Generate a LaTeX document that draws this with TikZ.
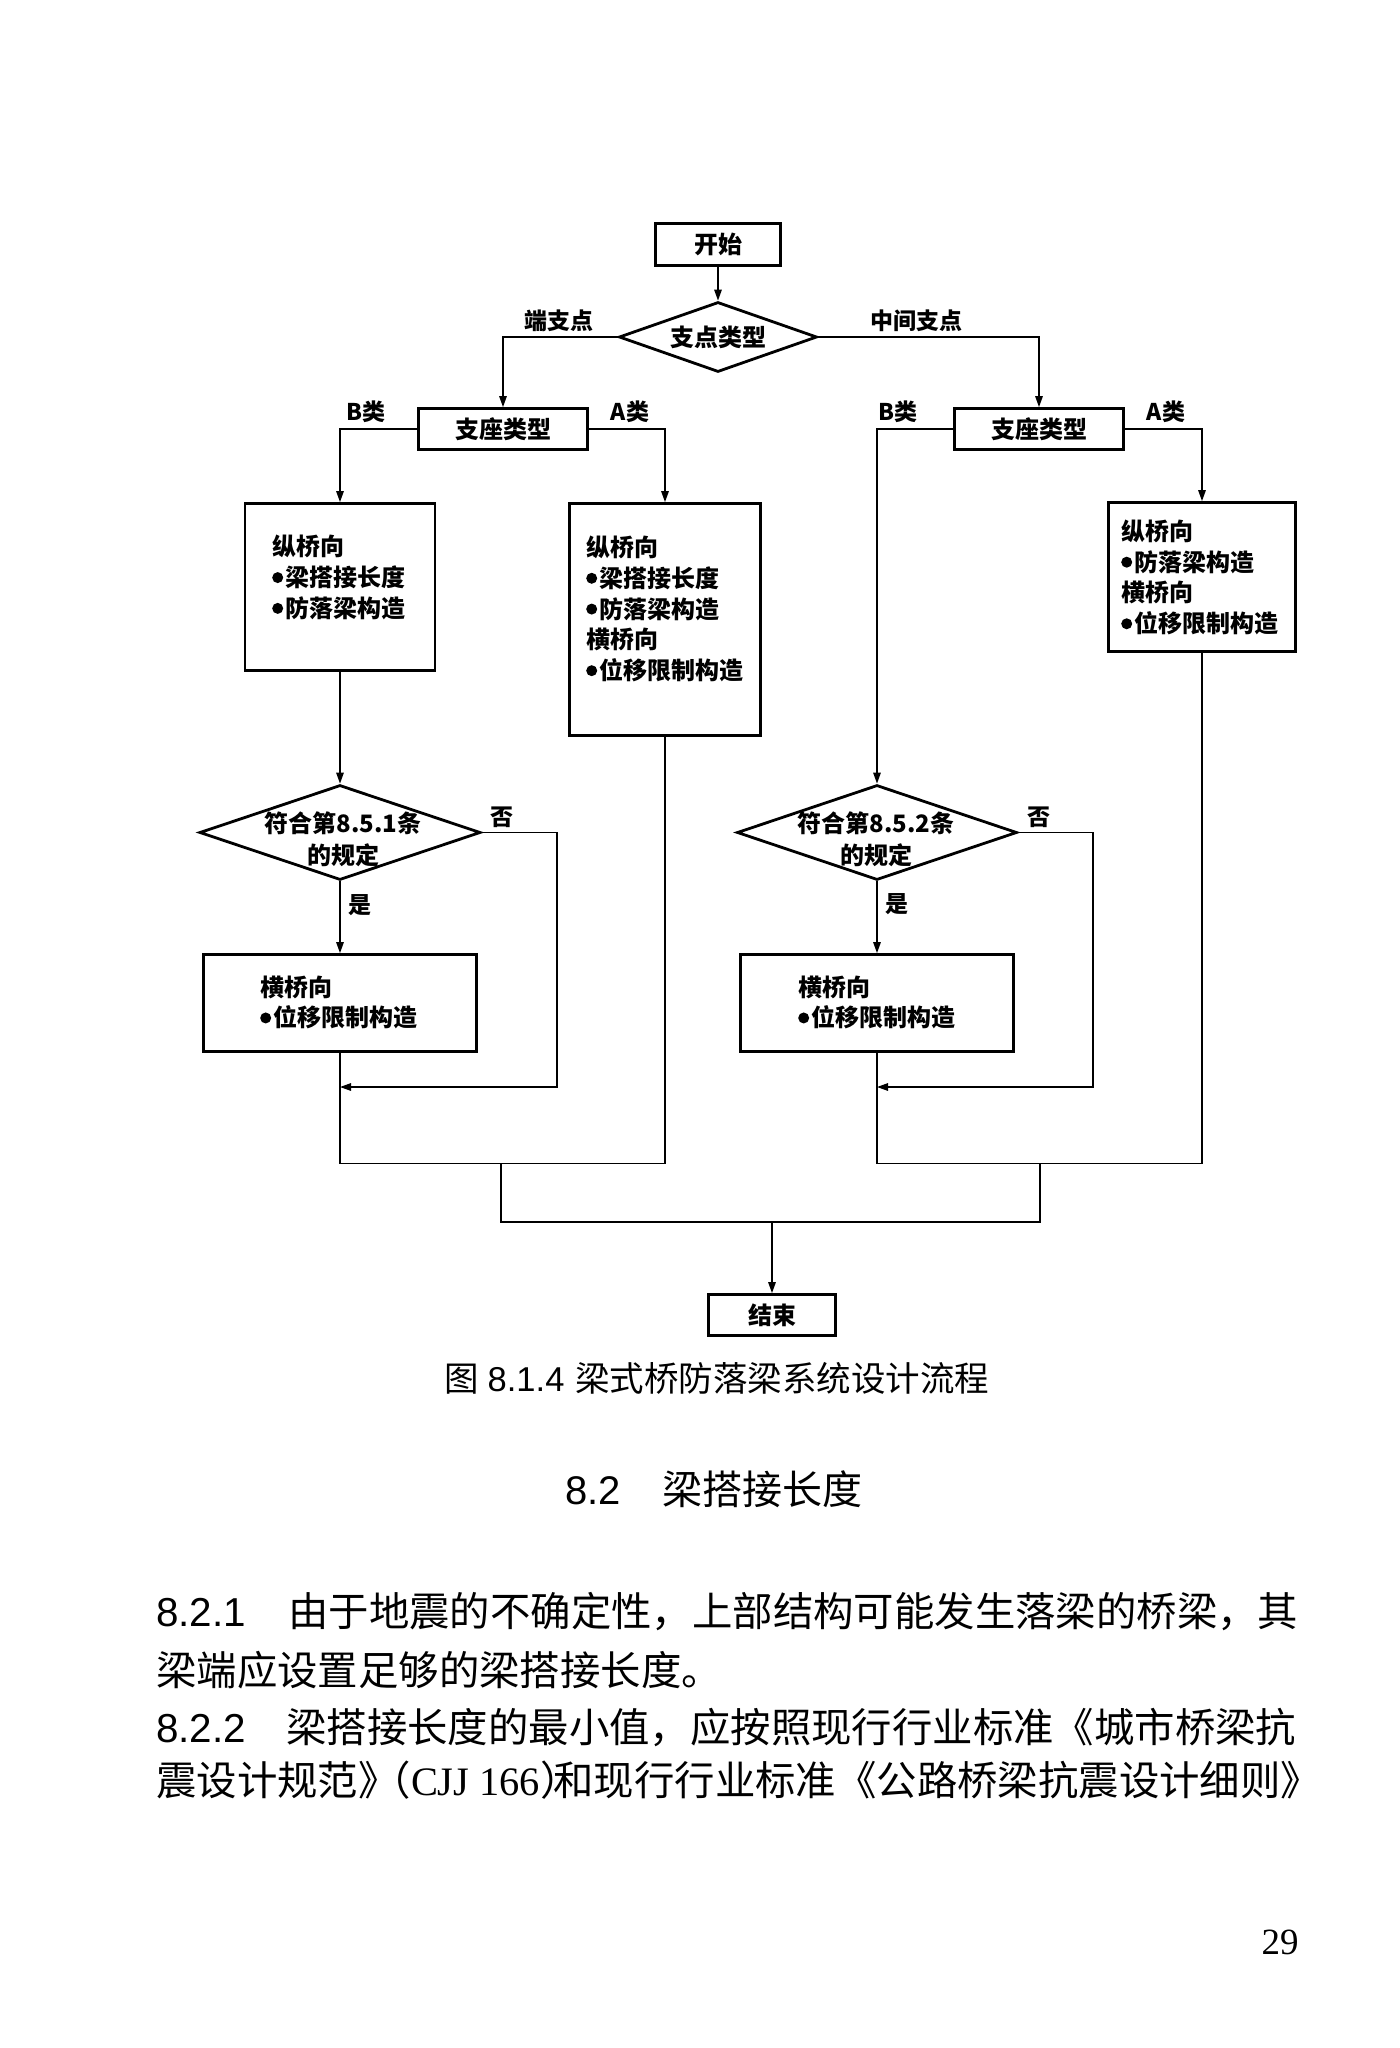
\documentclass[tikz,border=0pt]{standalone}
\usepackage{fontspec}
\setmainfont{Noto Sans CJK SC}
\newfontfamily\arialf{Liberation Sans}
\newfontfamily\timesf{Liberation Serif}
\usetikzlibrary{shapes.geometric,arrows.meta}
\newcommand{\fsz}[2]{\fontsize{#1}{#2}\selectfont}
\newcommand{\bul}{\raisebox{3.5pt}{\tikz\fill (0,0) circle (5.5pt);}\hspace{2.5pt}}
\begin{document}
\begin{tikzpicture}[x=1pt,y=-1pt,
 box/.style={draw, line width=2.8pt, rectangle, inner sep=0pt},
 dia/.style={draw, line width=2.8pt, diamond, inner sep=0pt},
 conn/.style={line width=1.4pt},
 arr/.style={conn, -{Triangle[length=11pt,width=7.5pt]}},
 ftxt/.style={font=\fsz{24}{30.8}\bfseries, align=left, inner sep=0pt, anchor=west},
 dtxt/.style={font=\fsz{24}{32}\bfseries, align=center, inner sep=0pt},
 lab/.style={font=\fsz{23}{26}\bfseries, inner sep=0pt},
 body/.style={font=\fsz{40.4}{44}, inner sep=0pt, anchor=west},
]
\fill[white] (0,0) rectangle (1400,2048);
\useasboundingbox (0,0) rectangle (1400,2048);

% ---- boxes ----
\node[box, minimum width=125pt, minimum height=42pt, font=\fsz{24}{28}\bfseries] (start) at (718,244.5) {开始};
\node[dia, minimum width=198pt, minimum height=70pt] (d0) at (718,337) {};
\node[dtxt] (d0t) at (718,337) {支点类型};

\node[box, minimum width=169pt, minimum height=41pt, font=\fsz{24}{28}\bfseries] (zl) at (503,429) {支座类型};
\node[box, minimum width=169pt, minimum height=41pt, font=\fsz{24}{28}\bfseries] (zr) at (1039,429) {支座类型};

\node[box, minimum width=190pt, minimum height=167pt] (bl) at (340,587) {};
\node[ftxt] (blt) at (272,577.5) {纵桥向\\\bul 梁搭接长度\\\bul 防落梁构造};

\node[box, minimum width=191pt, minimum height=232pt] (al) at (665,619.5) {};
\node[ftxt] (alt) at (586,609) {纵桥向\\\bul 梁搭接长度\\\bul 防落梁构造\\横桥向\\\bul 位移限制构造};

\node[box, minimum width=187pt, minimum height=149pt] (ar) at (1202,577) {};
\node[ftxt] (art) at (1121,577.5) {纵桥向\\\bul 防落梁构造\\横桥向\\\bul 位移限制构造};

\node[dia, minimum width=281pt, minimum height=95pt] (d1) at (340,832.5) {};
\node[dtxt] (d1t) at (343,839) {符合第8.5.1条\\的规定};
\node[dia, minimum width=280pt, minimum height=95pt] (d2) at (877,832.5) {};
\node[dtxt] (d2t) at (876,839) {符合第8.5.2条\\的规定};

\node[box, minimum width=273pt, minimum height=97pt] (hl) at (340,1003) {};
\node[ftxt] (hlt) at (260,1002.5) {横桥向\\\bul 位移限制构造};
\node[box, minimum width=273pt, minimum height=97pt] (hr) at (877,1003) {};
\node[ftxt] (hrt) at (798,1002.5) {横桥向\\\bul 位移限制构造};

\node[box, minimum width=127pt, minimum height=41pt, font=\fsz{24}{28}\bfseries] (end) at (772,1315) {结束};

% ---- labels ----
\node[lab] (l1) at (559,321) {端支点};
\node[lab] (l2) at (916,321) {中间支点};
\node[lab] (l3) at (366,412) {B类};
\node[lab] (l4) at (630,412) {A类};
\node[lab] (l5) at (898,412) {B类};
\node[lab] (l6) at (1166,412) {A类};
\node[lab] (l7) at (502,817) {否};
\node[lab] (l8) at (360,905) {是};
\node[lab] (l9) at (1039,817) {否};
\node[lab] (l10) at (897,904) {是};

% ---- coordinates ----
\coordinate (n1) at (557,1087);
\coordinate (j1) at (340,1087);
\coordinate (n2) at (1093,1087);
\coordinate (j2) at (877,1087);
\coordinate (m1) at (340,1163.5);
\coordinate (m2) at (665,1163.5);
\coordinate (m3) at (877,1163.5);
\coordinate (m4) at (1202,1163.5);
\coordinate (p1) at (501,1163.5);
\coordinate (p2) at (501,1222);
\coordinate (p3) at (1040,1222);
\coordinate (p4) at (1040,1163.5);
\coordinate (q) at (772,1222);

% ---- connectors ----
\draw[arr] (start.south) -- (d0.north);
\draw[arr] (d0.west) -| (zl.north);
\draw[arr] (d0.east) -| (zr.north);
\draw[arr] (zl.west) -| (bl.north);
\draw[arr] (zl.east) -| (al.north);
\draw[arr] (zr.west) -| (d2.north);
\draw[arr] (zr.east) -| (ar.north);
\draw[arr] (bl.south) -- (d1.north);
\draw[arr] (d1.south) -- (hl.north);
\draw[arr] (d2.south) -- (hr.north);
\draw[arr] (d1.east) -| (n1) -- (j1);
\draw[arr] (d2.east) -| (n2) -- (j2);
\draw[conn] (hl.south) -- (m1) -- (m2) -- (al.south);
\draw[conn] (hr.south) -- (m3) -- (m4) -- (ar.south);
\draw[conn] (p1) -- (p2) -- (p3) -- (p4);
\draw[arr] (q) -- (end.north);

% ---- page text ----
\node[font=\fsz{34.5}{40}, inner sep=0pt, anchor=west] (cap) at (444,1378) {图\hspace{9pt}{\arialf 8.1.4}\hspace{11pt}梁式桥防落梁系统设计流程};
\node[font=\fsz{40}{44}, inner sep=0pt, anchor=west] (sec) at (565,1489) {{\arialf 8.2}\hspace{42pt}梁搭接长度};
\node[body] (b1) at (156,1612) {\makebox[132pt][l]{\arialf 8.2.1}由于地震的不确定性，上部结构可能发生落梁的桥梁，其};
\node[body] (b2) at (156,1670) {梁端应设置足够的梁搭接长度。};
\node[body] (b3) at (156,1727) {\makebox[130pt][l]{\arialf 8.2.2}梁搭接长度的最小值，应按照现行行业标准《城市桥梁抗};
\node[body] (b4) at (156,1780) {震设计规范》\hspace{-28pt}（{\timesf CJJ 166}）\hspace{-27pt}和现行行业标准《公路桥梁抗震设计细则》};
\node[font=\timesf\fsz{37}{40}, inner sep=0pt] (pg) at (1280,1942) {29};
\end{tikzpicture}
\end{document}
